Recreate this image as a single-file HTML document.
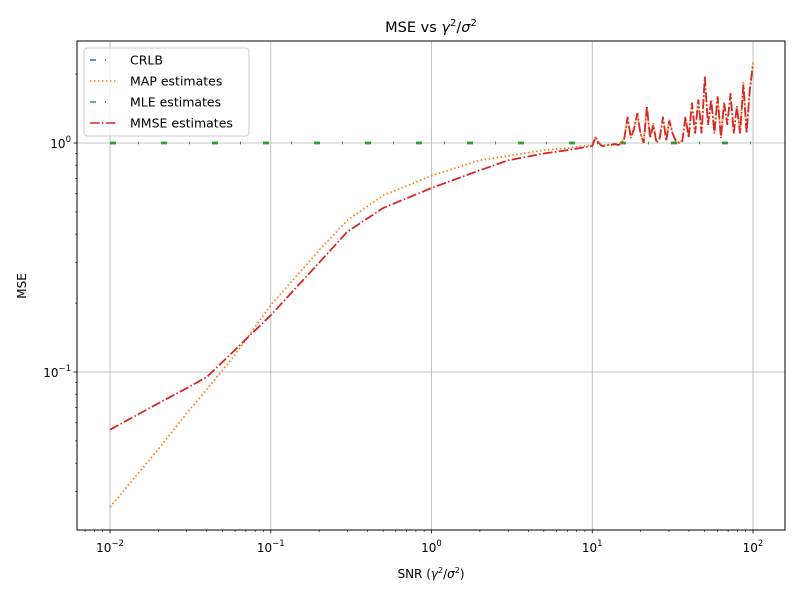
<!DOCTYPE html>
<html><head><meta charset="utf-8"><style>
body{margin:0;background:#fff}
svg{font-family:"DejaVu Sans","Liberation Sans",sans-serif}
</style></head><body>
<svg id="chart" width="800" height="600" viewBox="0 0 800 600" xmlns="http://www.w3.org/2000/svg">
<rect width="800" height="600" fill="#fff"/>
<text x="431" y="32" text-anchor="middle" font-size="14.5">MSE vs <tspan font-style="italic">γ</tspan><tspan font-size="10" dy="-6">2</tspan><tspan dy="6">/</tspan><tspan font-style="italic">σ</tspan><tspan font-size="10" dy="-6">2</tspan></text>
<text x="431" y="578" text-anchor="middle" font-size="12">SNR (<tspan font-style="italic">γ</tspan><tspan font-size="8" dy="-5">2</tspan><tspan dy="5">/</tspan><tspan font-style="italic">σ</tspan><tspan font-size="8" dy="-5">2</tspan><tspan dy="5">)</tspan></text>
<text transform="translate(26,286) rotate(-90)" text-anchor="middle" font-size="12">MSE</text>
<g id="grid"></g><g id="series"></g><g id="axes"></g>
</svg>
<script>
const crlbX=[-2,2], crlbY=[1,1];
const mleX=[-2,2], mleY=[1,1];
const smoothX=[0.01,0.02,0.03,0.04,0.06,0.1,0.2,0.3,0.5,1,2,3,5,7,10];
const mmseSmooth=[0.056,0.073,0.085,0.095,0.125,0.177,0.30,0.41,0.52,0.636,0.76,0.84,0.9,0.93,0.97];
const mapSmooth=[0.0257,0.046,0.066,0.084,0.119,0.196,0.34,0.46,0.59,0.72,0.84,0.88,0.93,0.95,0.98];
const noisyLogX=[1.00,1.02,1.04,1.06,1.08,1.10,1.12,1.14,1.16,1.18,1.20,1.22,1.24,1.26,1.28,1.30,1.32,1.34,1.36,1.38,1.40,1.42,1.44,1.46,1.48,1.50,1.52,1.54,1.56,1.58,1.60,1.62,1.64,1.66,1.68,1.70,1.72,1.74,1.76,1.78,1.80,1.82,1.84,1.86,1.88,1.90,1.92,1.94,1.96,1.98,2.00];
const mmseNoisy=[0.97,1.06,1.0,0.97,0.97,0.98,0.98,0.99,0.98,0.99,1.05,1.3,1.05,1.15,1.35,1.1,1.0,1.45,1.05,1.2,1.0,1.05,1.3,1.02,1.25,1.1,1.02,1.0,1.02,1.3,1.05,1.5,1.1,1.55,1.1,1.95,1.2,1.55,1.1,1.6,1.05,1.5,1.2,1.65,1.1,1.45,1.1,1.8,1.1,1.7,2.2];
const mapNoisy=[0.98,1.07,1.0,0.97,0.98,0.98,0.99,0.99,0.98,1.0,1.06,1.28,1.06,1.17,1.33,1.1,1.02,1.42,1.07,1.22,1.01,1.06,1.28,1.03,1.27,1.1,1.03,1.0,1.03,1.28,1.06,1.48,1.12,1.52,1.12,1.9,1.22,1.5,1.12,1.58,1.07,1.48,1.22,1.62,1.12,1.43,1.12,1.85,1.12,1.72,2.25];
const xTicks=[-2,-1,0,1,2], yTicks=[-1,0];

const L=77,R=785,T=41,B=530;
const xs=v=>110+(v+2)*160.75;
const ys=v=>143-Math.log10(v)*229;
const ns="http://www.w3.org/2000/svg";
function el(tag,attrs,parent){const e=document.createElementNS(ns,tag);for(const k in attrs)e.setAttribute(k,attrs[k]);parent.appendChild(e);return e;}
const grid=document.getElementById('grid'),ser=document.getElementById('series'),axes=document.getElementById('axes');
xTicks.forEach(t=>{const g=el('line',{x1:xs(t),x2:xs(t),y1:T,y2:B,stroke:'#b0b0b0','stroke-width':0.8},grid);
});
yTicks.forEach(t=>{const g=el('line',{x1:L,x2:R,y1:ys(Math.pow(10,t)),y2:ys(Math.pow(10,t)),stroke:'#b0b0b0','stroke-width':0.8},grid);
});
function pathOf(px){return px.map((p,i)=>(i?'L':'M')+p[0].toFixed(1)+','+p[1].toFixed(1)).join('');}
const clip=el('clipPath',{id:'cp'},document.getElementById('chart'));el('rect',{x:L,y:T,width:R-L,height:B-T},clip);
function series(pts,color,dash,name,w){const p=el('path',{d:pathOf(pts),fill:'none',stroke:color,'stroke-width':w||1.5,'stroke-dasharray':dash,'clip-path':'url(#cp)'},ser);
}
const crlbPts=crlbX.map((x,i)=>[xs(x),ys(crlbY[i])]);
const mlePts=mleX.map((x,i)=>[xs(x),ys(mleY[i])]);
series(crlbPts,'#1f77b4','6,22,1,22','crlb-line',2.5);
series(mlePts,'#2ca02c','6,22,1,22','mle-line',2.5);
const mapPts=smoothX.map((x,i)=>[xs(Math.log10(x)),ys(mapSmooth[i])]).concat(noisyLogX.map((x,i)=>[xs(x),ys(mapNoisy[i])]));
const mmsePts=smoothX.map((x,i)=>[xs(Math.log10(x)),ys(mmseSmooth[i])]).concat(noisyLogX.map((x,i)=>[xs(x),ys(mmseNoisy[i])]));
series(mapPts,'#ff7f0e','1.5,2.5','map-line',1.8);
series(mmsePts,'#d62728','9.6,2.4,1.5,2.4','mmse-line',1.8);
const fr=el('rect',{x:L,y:T,width:R-L,height:B-T,fill:'none',stroke:'#000','stroke-width':1},axes);

for(let d=-3;d<=2;d++){for(let m=1;m<10;m++){const v=d+Math.log10(m);const x=xs(v);if(x<L||x>R)continue;
const big=m===1;const t=el('line',{x1:x,x2:x,y1:B,y2:B+(big?3.5:2),stroke:'#000','stroke-width':big?0.8:0.6},axes);
}}
xTicks.forEach(t=>{const tx=el('text',{x:xs(t),y:B+22,'text-anchor':'middle','font-size':'12'},axes);

tx.innerHTML='10<tspan font-size="8.5" dy="-6">'+(t<0?'−'+(-t):t)+'</tspan>';});
for(let d=-2;d<=0;d++){for(let m=1;m<10;m++){const v=m*Math.pow(10,d);const y=ys(v);if(y<T||y>B)continue;
const big=m===1;const t=el('line',{x1:L,x2:L-(big?3.5:2),y1:y,y2:y,stroke:'#000','stroke-width':big?0.8:0.6},axes);
}}
yTicks.forEach(t=>{const tx=el('text',{x:L-6,y:ys(Math.pow(10,t))+5,'text-anchor':'end','font-size':'12'},axes);

tx.innerHTML='10<tspan font-size="8.5" dy="-6">'+(t<0?'−'+(-t):t)+'</tspan>';});
const lg=el('g',{},axes);
el('rect',{x:84,y:48,width:165,height:88,rx:3,fill:'#fff','fill-opacity':0.8,stroke:'#ccc'},lg);
const entries=[['CRLB','#1f77b4','6,9,1,20'],['MAP estimates','#ff7f0e','1.5,2.5'],['MLE estimates','#2ca02c','6,9,1,20'],['MMSE estimates','#d62728','9.6,2.4,1.5,2.4']];
entries.forEach((e,i)=>{const y=60+i*21;const g=el('g',{},lg);

el('line',{x1:90,x2:118,y1:y,y2:y,stroke:e[1],'stroke-width':1.5,'stroke-dasharray':e[2]},g);
const t=el('text',{x:130,y:y+4.5,'font-size':'12.5'},g);t.textContent=e[0];});
</script>
</body></html>
